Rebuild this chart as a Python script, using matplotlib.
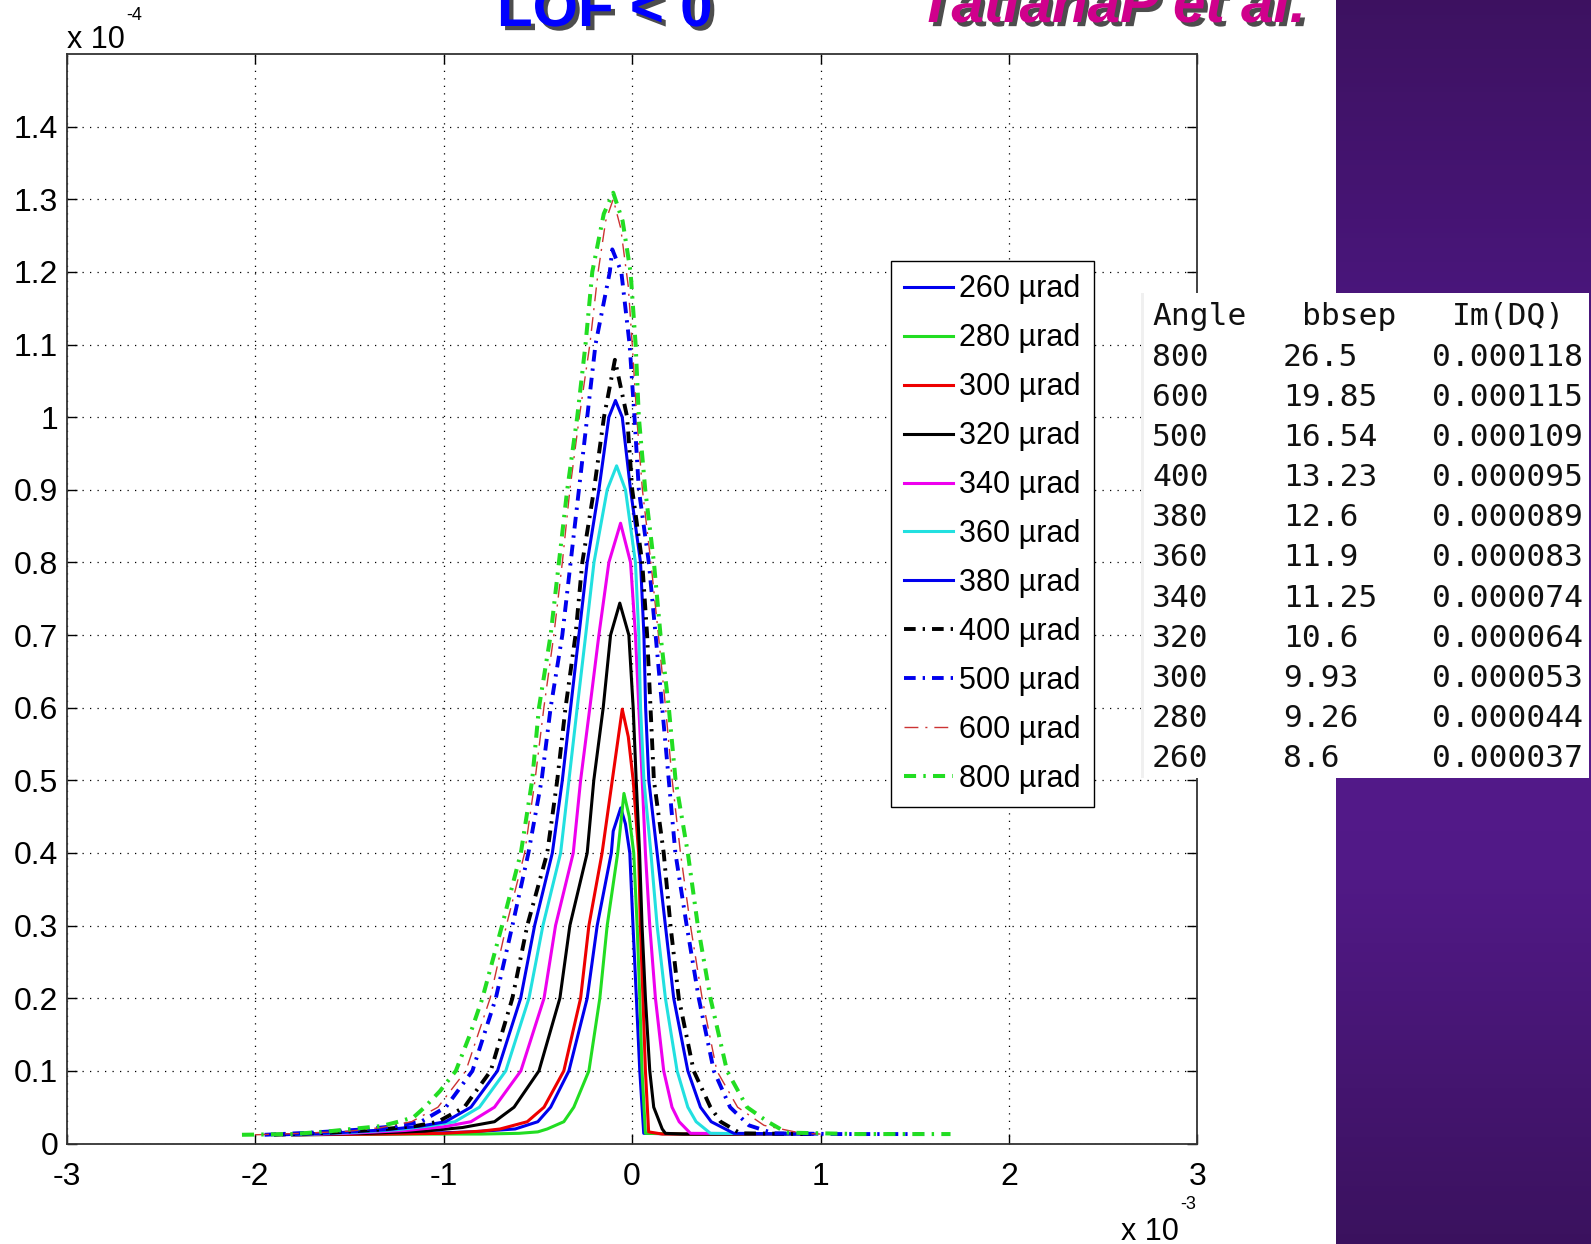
import numpy as np
import matplotlib
matplotlib.use('Agg')
import matplotlib.pyplot as plt
from matplotlib.patches import Rectangle
import matplotlib.patheffects as pe

plt.rcParams['axes.unicode_minus'] = False
plt.rcParams['font.family'] = ['Liberation Sans', 'DejaVu Sans']

# ---------------- data (x in units of 1e-3, y in units of 1e-4) ----------------
x_260 = [-1.80, -1.40, -1.10, -0.85, -0.62, -0.50, -0.432, -0.335, -0.238, -0.185, -0.110, -0.100, -0.060, -0.035, -0.012, 0.005, 0.023, 0.041, 0.062, 0.30, 0.95]
y_260 = [0.012, 0.013, 0.014, 0.016, 0.020, 0.030, 0.050, 0.100, 0.200, 0.300, 0.400, 0.430, 0.462, 0.440, 0.400, 0.300, 0.200, 0.100, 0.014, 0.013, 0.013]

x_280 = [-1.80, -1.20, -0.80, -0.60, -0.50, -0.45, -0.362, -0.309, -0.229, -0.171, -0.132, -0.076, -0.043, -0.015, 0.009, 0.027, 0.041, 0.053, 0.071, 0.30, 0.95]
y_280 = [0.012, 0.013, 0.013, 0.014, 0.016, 0.020, 0.030, 0.050, 0.100, 0.200, 0.300, 0.400, 0.482, 0.450, 0.400, 0.300, 0.200, 0.100, 0.014, 0.013, 0.013]

x_300 = [-1.80, -1.30, -1.00, -0.80, -0.70, -0.556, -0.467, -0.362, -0.273, -0.229, -0.159, -0.105, -0.052, -0.020, 0.006, 0.035, 0.044, 0.058, 0.071, 0.088, 0.16, 0.95]
y_300 = [0.012, 0.013, 0.014, 0.017, 0.020, 0.030, 0.050, 0.100, 0.200, 0.300, 0.400, 0.500, 0.598, 0.560, 0.500, 0.400, 0.300, 0.200, 0.100, 0.016, 0.013, 0.013]

x_320 = [-1.80, -1.40, -1.10, -0.90, -0.73, -0.626, -0.494, -0.383, -0.33, -0.238, -0.203, -0.153, -0.114, -0.065, -0.017, 0.006, 0.022, 0.040, 0.053, 0.071, 0.094, 0.115, 0.16, 0.177, 0.27, 0.95]
y_320 = [0.012, 0.014, 0.017, 0.022, 0.030, 0.050, 0.100, 0.200, 0.300, 0.400, 0.500, 0.600, 0.700, 0.744, 0.700, 0.600, 0.500, 0.400, 0.300, 0.200, 0.100, 0.050, 0.020, 0.014, 0.013, 0.013]

x_340 = [-1.80, -1.50, -1.20, -1.00, -0.855, -0.73, -0.59, -0.467, -0.406, -0.312, -0.273, -0.224, -0.176, -0.123, -0.061, -0.008, 0.018, 0.036, 0.054, 0.071, 0.094, 0.124, 0.168, 0.212, 0.25, 0.31, 0.95]
y_340 = [0.012, 0.014, 0.018, 0.023, 0.030, 0.050, 0.100, 0.200, 0.300, 0.400, 0.500, 0.600, 0.700, 0.800, 0.854, 0.800, 0.700, 0.600, 0.500, 0.400, 0.300, 0.200, 0.100, 0.050, 0.030, 0.014, 0.013]

x_360 = [-1.80, -1.50, -1.25, -1.08, -0.94, -0.81, -0.67, -0.547, -0.473, -0.379, -0.335, -0.291, -0.246, -0.202, -0.132, -0.082, -0.035, 0.018, 0.036, 0.045, 0.063, 0.100, 0.133, 0.177, 0.239, 0.296, 0.34, 0.416, 0.95]
y_360 = [0.012, 0.015, 0.019, 0.024, 0.030, 0.050, 0.100, 0.200, 0.300, 0.400, 0.500, 0.600, 0.700, 0.800, 0.900, 0.933, 0.900, 0.800, 0.700, 0.600, 0.500, 0.400, 0.300, 0.200, 0.100, 0.050, 0.030, 0.014, 0.013]

x_380 = [-1.85, -1.55, -1.30, -1.12, -0.99, -0.855, -0.714, -0.591, -0.517, -0.423, -0.370, -0.326, -0.282, -0.238, -0.176, -0.123, -0.088, -0.052, -0.008, 0.045, 0.063, 0.072, 0.089, 0.133, 0.177, 0.221, 0.296, 0.363, 0.42, 0.54, 0.98]
y_380 = [0.012, 0.015, 0.019, 0.024, 0.030, 0.050, 0.100, 0.200, 0.300, 0.400, 0.500, 0.600, 0.700, 0.800, 0.900, 1.000, 1.023, 1.000, 0.900, 0.800, 0.700, 0.600, 0.500, 0.400, 0.300, 0.200, 0.100, 0.050, 0.030, 0.014, 0.013]

x_400 = [-1.90, -1.60, -1.35, -1.15, -1.03, -0.89, -0.75, -0.635, -0.556, -0.45, -0.397, -0.353, -0.30, -0.264, -0.202, -0.149, -0.091, -0.026, 0.001, 0.054, 0.08, 0.098, 0.116, 0.168, 0.204, 0.248, 0.327, 0.416, 0.47, 0.575, 0.95]
y_400 = [0.012, 0.015, 0.019, 0.024, 0.030, 0.050, 0.100, 0.200, 0.300, 0.400, 0.500, 0.600, 0.700, 0.800, 0.900, 1.000, 1.079, 1.000, 0.900, 0.800, 0.700, 0.600, 0.500, 0.400, 0.300, 0.200, 0.100, 0.050, 0.030, 0.014, 0.013]

x_500 = [-1.95, -1.70, -1.45, -1.25, -1.12, -0.988, -0.847, -0.723, -0.635, -0.55, -0.48, -0.432, -0.37, -0.326, -0.282, -0.238, -0.194, -0.118, -0.105, -0.057, -0.013, 0.013, 0.036, 0.089, 0.125, 0.16, 0.195, 0.23, 0.29, 0.354, 0.434, 0.52, 0.62, 0.75, 1.10, 1.55]
y_500 = [0.012, 0.015, 0.019, 0.024, 0.030, 0.050, 0.100, 0.200, 0.300, 0.400, 0.500, 0.600, 0.700, 0.800, 0.900, 1.000, 1.100, 1.200, 1.231, 1.200, 1.100, 1.000, 0.900, 0.800, 0.700, 0.600, 0.500, 0.400, 0.300, 0.200, 0.100, 0.050, 0.025, 0.014, 0.013, 0.013]

x_600 = [-2.00, -1.75, -1.50, -1.33, -1.17, -1.03, -0.882, -0.753, -0.667, -0.57, -0.515, -0.468, -0.415, -0.37, -0.33, -0.28, -0.224, -0.18, -0.14, -0.100, -0.06, -0.02, 0.001, 0.025, 0.055, 0.10, 0.14, 0.178, 0.213, 0.257, 0.31, 0.372, 0.45, 0.56, 0.70, 0.90, 1.00]
y_600 = [0.012, 0.014, 0.017, 0.022, 0.030, 0.050, 0.100, 0.200, 0.300, 0.400, 0.500, 0.600, 0.700, 0.800, 0.900, 1.000, 1.100, 1.200, 1.270, 1.300, 1.260, 1.180, 1.100, 1.000, 0.900, 0.800, 0.700, 0.600, 0.500, 0.400, 0.300, 0.200, 0.100, 0.050, 0.025, 0.014, 0.013]

x_800 = [-2.07, -1.80, -1.60, -1.45, -1.33, -1.24, -1.16, -1.10, -1.02, -0.935, -0.86, -0.794, -0.69, -0.59, -0.53, -0.494, -0.432, -0.388, -0.344, -0.291, -0.247, -0.211, -0.15, -0.10, -0.05, -0.008, 0.019, 0.036, 0.07, 0.116, 0.151, 0.195, 0.231, 0.296, 0.349, 0.416, 0.504, 0.61, 0.72, 0.82, 1.20, 1.69]
y_800 = [0.012, 0.013, 0.017, 0.021, 0.024, 0.030, 0.036, 0.050, 0.072, 0.100, 0.150, 0.200, 0.300, 0.400, 0.500, 0.600, 0.700, 0.800, 0.900, 1.000, 1.100, 1.200, 1.280, 1.309, 1.270, 1.200, 1.100, 1.000, 0.900, 0.800, 0.700, 0.600, 0.500, 0.400, 0.300, 0.200, 0.100, 0.050, 0.030, 0.015, 0.013, 0.013]

labels = ['260 µrad', '280 µrad', '300 µrad', '320 µrad', '340 µrad', '360 µrad',
          '380 µrad', '400 µrad', '500 µrad', '600 µrad', '800 µrad']

x_ticks = [-3, -2, -1, 0, 1, 2, 3]
y_ticks = [0, 0.1, 0.2, 0.3, 0.4, 0.5, 0.6, 0.7, 0.8, 0.9, 1.0, 1.1, 1.2, 1.3, 1.4]

tbl_header = ['Angle', 'bbsep', 'Im(DQ)']
tbl_angle = ['800', '600', '500', '400', '380', '360', '340', '320', '300', '280', '260']
tbl_bbsep = ['26.5', '19.85', '16.54', '13.23', '12.6', '11.9', '11.25', '10.6', '9.93', '9.26', '8.6']
tbl_imdq = ['0.000118', '0.000115', '0.000109', '0.000095', '0.000089', '0.000083',
            '0.000074', '0.000064', '0.000053', '0.000044', '0.000037']

# ---------------- styles ----------------
xs = [x_260, x_280, x_300, x_320, x_340, x_360, x_380, x_400, x_500, x_600, x_800]
ys = [y_260, y_280, y_300, y_320, y_340, y_360, y_380, y_400, y_500, y_600, y_800]
colors = ['#0000ee', '#22dd22', '#ee0000', '#000000', '#ee00ee', '#22e0e0',
          '#0000ee', '#000000', '#0000ee', '#cc3333', '#22dd22']
dd = (0, (3, 1.8, 0.6, 1.8))
dd_thin = (0, (10, 5, 1.5, 5))
styles = ['-', '-', '-', '-', '-', '-', '-', dd, dd, dd_thin, dd]
widths = [2.2, 2.2, 2.2, 2.2, 2.2, 2.2, 2.2, 2.8, 2.8, 1.0, 2.9]

W, H = 1591, 1244
fig = plt.figure(figsize=(W / 100, H / 100), dpi=100)
fig.patch.set_facecolor('white')


def fx(px):
    return px / W


def fy(py):
    return 1 - py / H


# purple side panel
ax_bg = fig.add_axes([fx(1336), 0, 1 - fx(1336), 1])
stops = np.array([0.0, 0.3, 0.5, 0.7, 1.0])
c_r = np.interp(np.linspace(0, 1, 256), stops, [0.24, 0.30, 0.33, 0.32, 0.23])
c_g = np.interp(np.linspace(0, 1, 256), stops, [0.07, 0.09, 0.10, 0.10, 0.07])
c_b = np.interp(np.linspace(0, 1, 256), stops, [0.38, 0.51, 0.55, 0.53, 0.37])
grad = np.stack([c_r, c_g, c_b], axis=1)[:, None, :]
ax_bg.imshow(grad, aspect='auto', extent=[0, 1, 0, 1], origin='upper')
ax_bg.axis('off')

# main axes
ax = fig.add_axes([fx(66.7), fy(1143.5), fx(1197.4) - fx(66.7), fy(54) - fy(1143.5)])
handles = []
for x, y, c, ls, lw, lab in zip(xs, ys, colors, styles, widths, labels):
    h, = ax.plot(x, y, color=c, linestyle=ls, linewidth=lw, label=lab)
    handles.append(h)

ax.set_xlim(-3, 3)
ax.set_ylim(0, 1.5)
ax.set_xticks(x_ticks)
ax.set_xticklabels([f'{t:g}' for t in x_ticks])
ax.set_yticks(y_ticks)
ax.set_yticklabels([f'{t:g}' for t in y_ticks])
ax.set_axisbelow(True)
ax.grid(True, color='black', linestyle=(0, (1, 5)), linewidth=0.9)
ax.tick_params(direction='in', length=7, width=1, top=True, right=True,
               labelsize=23, colors='black')
ax.tick_params(axis='x', pad=13)
ax.tick_params(axis='y', pad=6)
for s in ax.spines.values():
    s.set_color('#333333')
    s.set_linewidth(1.3)

leg = ax.legend(handles, labels, loc='upper left',
                bbox_to_anchor=(fx(891), fy(261)), bbox_transform=fig.transFigure,
                prop={'family': 'Liberation Sans', 'size': 22},
                frameon=True, fancybox=False, edgecolor='black', framealpha=1,
                borderaxespad=0, borderpad=0.44, handlelength=1.6,
                handletextpad=0.2, labelspacing=0.62)
leg.get_frame().set_linewidth(1.0)

# exponent labels
fig.text(fx(67), fy(48), 'x 10', fontsize=22, ha='left', va='baseline')
fig.text(fx(126), fy(20), '-4', fontsize=13, ha='left', va='baseline')
fig.text(fx(1121), fy(1240), 'x 10', fontsize=22, ha='left', va='baseline')
fig.text(fx(1180), fy(1209), '-3', fontsize=13, ha='left', va='baseline')

# table overlay
fig.add_artist(Rectangle((fx(1141), fy(778)), fx(1589) - fx(1141), fy(293) - fy(778),
                         transform=fig.transFigure, facecolor='white',
                         edgecolor='none', zorder=5))
fig.add_artist(Rectangle((fx(1141), fy(778)), fx(3), fy(293) - fy(778),
                         transform=fig.transFigure, facecolor='#f0f0f0',
                         edgecolor='none', zorder=5.5))
mono = {'family': 'DejaVu Sans Mono', 'size': 22.5}
col_hdr = [1152, 1302, 1452]
col_val = [1152, 1283, 1432]
for cx, txt in zip(col_hdr, tbl_header):
    fig.text(fx(cx), fy(325), txt, fontdict=mono, color='#111111',
             va='baseline', zorder=6)
for i, (a, b, c) in enumerate(zip(tbl_angle, tbl_bbsep, tbl_imdq)):
    yb = fy(366 + 40.1 * i)
    for cx, txt in zip(col_val, (a, b, c)):
        fig.text(fx(cx), yb, txt, fontdict=mono, color='#111111', va='baseline', zorder=6)

# slide titles (cut off at the top)
shadow = [pe.withSimplePatchShadow(offset=(3, -3), shadow_rgbFace='#202020', alpha=0.8)]
fig.text(fx(497), fy(26), 'LOF < 0', color='#0000ff', fontsize=42, fontweight='bold',
         ha='left', va='baseline', path_effects=shadow, zorder=7)
fig.text(fx(918), fy(22), 'TatianaP et al.', color='#d0008c', fontsize=42,
         fontweight='bold', fontstyle='italic', ha='left', va='baseline',
         path_effects=shadow, zorder=7)

fig.savefig('out.png', dpi=100, facecolor='white')
